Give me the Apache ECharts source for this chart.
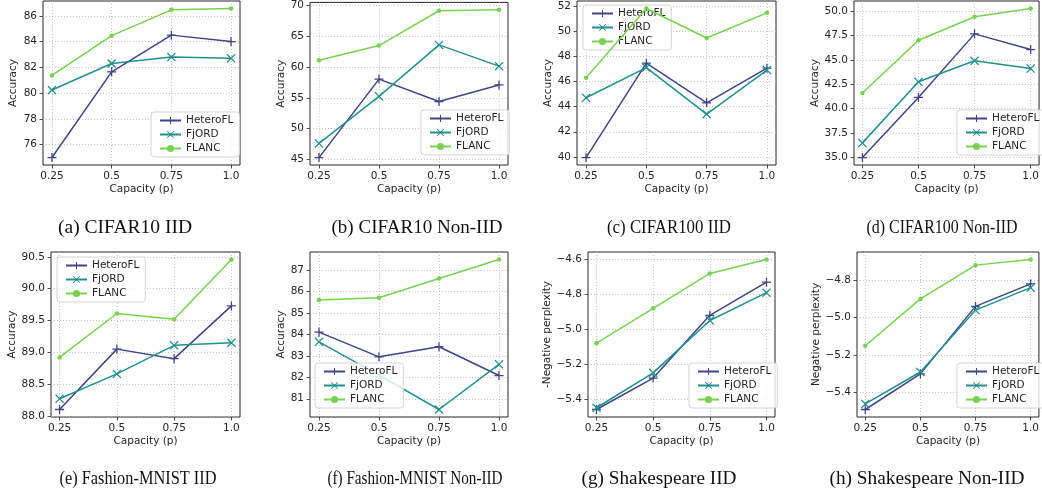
<!DOCTYPE html>
<html>
<head>
<meta charset="utf-8">
<script src="https://cdn.jsdelivr.net/npm/echarts@6/dist/echarts.min.js"></script>
<style>
  html, body { margin: 0; padding: 0; background: #fff; }
  #chart { width: 1042px; height: 495px; }
</style>
</head>
<body>
<div id="chart"></div>
<script>
const capacity = [0.25, 0.5, 0.75, 1.0];
const xTickLabels = ['0.25', '0.5', '0.75', '1.0'];
const methods = ['HeteroFL', 'FjORD', 'FLANC'];

// (a) CIFAR10 IID
const heteroA = [75.0, 81.65, 84.5, 84.0];
const fjordA = [80.24, 82.3, 82.8, 82.7];
const flancA = [81.37, 84.46, 86.46, 86.57];
const yTicksA = ['76', '78', '80', '82', '84', '86'];

// (b) CIFAR10 Non-IID
const heteroB = [45.3, 58.05, 54.4, 57.1];
const fjordB = [47.6, 55.25, 63.6, 60.15];
const flancB = [61.1, 63.5, 69.15, 69.3];
const yTicksB = ['45', '50', '55', '60', '65', '70'];

// (c) CIFAR100 IID
const heteroC = [39.95, 47.45, 44.3, 47.05];
const fjordC = [44.7, 47.1, 43.4, 46.9];
const flancC = [46.3, 51.8, 49.45, 51.45];
const yTicksC = ['40', '42', '44', '46', '48', '50', '52'];

// (d) CIFAR100 Non-IID
const heteroD = [35.0, 41.15, 47.65, 46.05];
const fjordD = [36.5, 42.75, 44.9, 44.1];
const flancD = [41.6, 47.0, 49.4, 50.25];
const yTicksD = ['35.0', '37.5', '40.0', '42.5', '45.0', '47.5', '50.0'];

// (e) Fashion-MNIST IID
const heteroE = [88.1, 89.05, 88.9, 89.73];
const fjordE = [88.27, 88.66, 89.11, 89.15];
const flancE = [88.92, 89.61, 89.52, 90.46];
const yTicksE = ['88.0', '88.5', '89.0', '89.5', '90.0', '90.5'];

// (f) Fashion-MNIST Non-IID
const heteroF = [84.1, 82.95, 83.42, 82.08];
const fjordF = [83.65, 82.1, 80.5, 82.6];
const flancF = [85.6, 85.7, 86.6, 87.48];
const yTicksF = ['81', '82', '83', '84', '85', '86', '87'];

// (g) Shakespeare IID
const heteroG = [-5.46, -5.28, -4.92, -4.73];
const fjordG = [-5.45, -5.25, -4.95, -4.79];
const flancG = [-5.08, -4.88, -4.68, -4.6];
const yTicksG = ['\u22125.4', '\u22125.2', '\u22125.0', '\u22124.8', '\u22124.6'];

// (h) Shakespeare Non-IID
const heteroH = [-5.49, -5.3, -4.94, -4.82];
const fjordH = [-5.46, -5.29, -4.96, -4.84];
const flancH = [-5.15, -4.9, -4.72, -4.69];
const yTicksH = ['\u22125.4', '\u22125.2', '\u22125.0', '\u22124.8'];

const colors = ['#414487', '#22908c', '#7ad151'];
const symbols = [
  'path://M4.3,0H5.7V4.3H10V5.7H5.7V10H4.3V5.7H0V4.3H4.3Z',
  'path://M0,1L1,0L5,4L9,0L10,1L6,5L10,9L9,10L5,6L1,10L0,9L4,5Z',
  'circle'
];
const symbolSizes = [9, 9, 4.5];

const panels = [
  { caption: '(a) CIFAR10 IID', yName: 'Accuracy', data: [heteroA, fjordA, flancA], ticks: yTicksA,
    grid: [43, 1, 197, 164], nameGap: 24, legend: [151, 112], cap: [125, 228, 134] },
  { caption: '(b) CIFAR10 Non-IID', yName: 'Accuracy', data: [heteroB, fjordB, flancB], ticks: yTicksB,
    grid: [310, 1, 198, 164], nameGap: 23, legend: [421, 110], cap: [417, 228, 171] },
  { caption: '(c) CIFAR100 IID', yName: 'Accuracy', data: [heteroC, fjordC, flancC], ticks: yTicksC,
    grid: [577, 1, 199, 164], nameGap: 23, legend: [583, 5], cap: [669, 228, 124] },
  { caption: '(d) CIFAR100 Non-IID', yName: 'Accuracy', data: [heteroD, fjordD, flancD], ticks: yTicksD,
    grid: [854, 1, 189, 164], nameGap: 32, legend: [957, 110], cap: [942, 228, 151] },
  { caption: '(e) Fashion-MNIST IID', yName: 'Accuracy', data: [heteroE, fjordE, flancE], ticks: yTicksE,
    grid: [51, 252, 189, 165], nameGap: 31, legend: [57, 257], cap: [138, 479, 157] },
  { caption: '(f) Fashion-MNIST Non-IID', yName: 'Accuracy', data: [heteroF, fjordF, flancF], ticks: yTicksF,
    grid: [310, 252, 198, 165], nameGap: 23, legend: [315, 363], cap: [415, 479, 175] },
  { caption: '(g) Shakespeare IID', yName: '-Negative perplexity', data: [heteroG, fjordG, flancG], ticks: yTicksG,
    grid: [588, 252, 187, 165], nameGap: 33, legend: [689, 363], cap: [659, 479, 155] },
  { caption: '(h) Shakespeare Non-IID', yName: 'Negative perplexity', data: [heteroH, fjordH, flancH], ticks: yTicksH,
    grid: [857, 252, 186, 165], nameGap: 34, legend: [957, 363], cap: [927, 479, 195] }
];

const txt = { fontFamily: 'DejaVu Sans', fontSize: 10.5, color: '#262626' };
const gridLine = { show: true, lineStyle: { color: '#b8b8b8', width: 0.8, type: [1, 2] } };
const tickStyle = { show: true, length: 3.5, lineStyle: { color: '#262626', width: 0.8 } };

const measure = document.createElement('canvas').getContext('2d');
measure.font = '18px "Liberation Serif"';

const option = {
  animation: false,
  backgroundColor: '#fff',
  grid: [], xAxis: [], yAxis: [], series: [], legend: [], graphic: []
};

panels.forEach((p, i) => {
  const all = [].concat(...p.data);
  const lo = Math.min(...all), hi = Math.max(...all);
  const pad = (hi - lo) * 0.05;
  const tickVals = p.ticks.map(s => parseFloat(s.replace('\u2212', '-')));

  option.grid.push({
    left: p.grid[0], top: p.grid[1], width: p.grid[2], height: p.grid[3],
    show: true, borderColor: '#262626', borderWidth: 1, backgroundColor: 'transparent'
  });
  option.xAxis.push({
    gridIndex: i, type: 'value', min: 0.2125, max: 1.0375,
    axisLine: { show: false },
    axisTick: Object.assign({ customValues: capacity }, tickStyle),
    axisLabel: Object.assign({ customValues: capacity, margin: 6,
      formatter: v => xTickLabels[capacity.indexOf(v)] }, txt),
    splitLine: gridLine,
    name: 'Capacity (p)', nameLocation: 'middle', nameGap: 19, nameTextStyle: txt
  });
  option.yAxis.push({
    gridIndex: i, type: 'value', min: lo - pad, max: hi + pad,
    axisLine: { show: false },
    axisTick: Object.assign({ customValues: tickVals }, tickStyle),
    axisLabel: Object.assign({ customValues: tickVals, margin: 6,
      formatter: v => {
        const k = tickVals.findIndex(t => Math.abs(t - v) < 1e-6);
        return k >= 0 ? p.ticks[k] : '';
      } }, txt),
    splitLine: gridLine,
    name: p.yName, nameLocation: 'middle', nameGap: p.nameGap, nameTextStyle: txt
  });
  p.data.forEach((vals, k) => {
    option.series.push({
      type: 'line', name: methods[k], xAxisIndex: i, yAxisIndex: i,
      data: vals.map((v, j) => [capacity[j], v]),
      symbol: symbols[k], symbolSize: symbolSizes[k], showAllSymbol: true,
      lineStyle: { width: 1.5, color: colors[k] },
      itemStyle: { color: colors[k] },
      emphasis: { disabled: true }, z: 2 + k
    });
  });
  option.legend.push({
    orient: 'vertical', left: p.legend[0], top: p.legend[1], data: methods,
    itemWidth: 21, itemHeight: 9, itemGap: 3, selectedMode: false,
    padding: [3, 6, 3, 8],
    borderColor: '#d5d5d5', borderWidth: 1, borderRadius: 3,
    backgroundColor: 'rgba(255,255,255,0.8)',
    textStyle: txt
  });
  const w = measure.measureText(p.caption).width || p.cap[2];
  option.graphic.push({
    type: 'text', x: p.cap[0], y: p.cap[1], scaleX: p.cap[2] / w,
    style: { text: p.caption, fontFamily: 'Liberation Serif', fontSize: 18,
      fill: '#111', align: 'center', verticalAlign: 'middle' }
  });
});

const chart = echarts.init(document.getElementById('chart'));
chart.setOption(option);
</script>
</body>
</html>
